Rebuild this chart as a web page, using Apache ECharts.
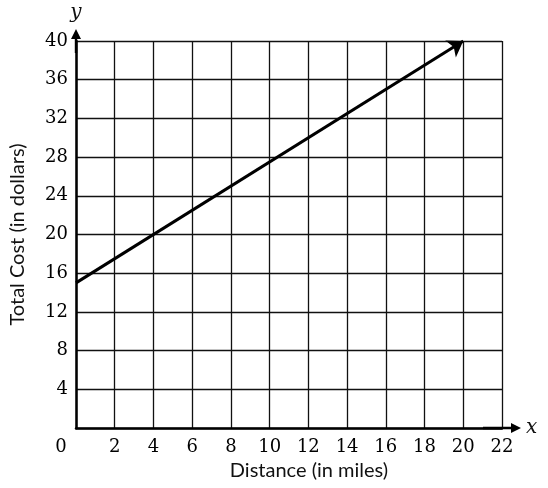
<!DOCTYPE html>
<html><head><meta charset="utf-8">
<script src="https://cdn.jsdelivr.net/npm/echarts@6/dist/echarts.min.js"></script>
<style>html,body{margin:0;padding:0;background:#fff}#c{width:548px;height:488px}</style>
</head><body><div id="c"></div>
<script>
const distance = [0, 20];
const totalCost = [15, 40];
const xTicks = {min: 0, max: 22, step: 2};
const yTicks = {min: 0, max: 40, step: 4};
const xTitle = 'Distance (in miles)';
const yTitle = 'Total Cost (in dollars)';

const chart = echarts.init(document.getElementById('c'));
const serif = 'DejaVu Serif';
const sans = 'Lato';
const arrowX = 'path://M5 0 L10 10 L6.2 10 L6.2 38 L3.8 38 L3.8 10 L0 10 Z';
const arrowY = 'path://M5 0 L10 10 L6.2 10 L6.2 24 L3.8 24 L3.8 10 L0 10 Z';
chart.setOption({
  animation: false,
  grid: {left: 76, right: 46, top: 41, bottom: 60, containLabel: false, outerBoundsMode: 'none'},
  xAxis: [{
    type: 'value', min: xTicks.min, max: xTicks.max, interval: xTicks.step,
    axisLine: {show: true, lineStyle: {color: '#000', width: 2.5}, symbol: ['none', arrowX], symbolSize: [10, 38]},
    axisTick: {show: false},
    splitLine: {show: true, lineStyle: {color: '#111', width: 1.3}},
    axisLabel: {
      color: '#000', fontFamily: serif, fontSize: 18, margin: 10,
      formatter: v => v === 0 ? '{z|0}' : String(v),
      rich: {z: {fontFamily: serif, fontSize: 18, color: '#000', padding: [0, 30, 4, 0]}}
    },
    name: xTitle, nameLocation: 'middle', nameGap: 33,
    nameTextStyle: {fontFamily: sans, fontSize: 20, color: '#111', padding: [0, 0, 0, 40]}
  }, {
    type: 'value', min: xTicks.min, max: xTicks.max, position: 'bottom',
    axisLine: {show: false}, axisTick: {show: false}, axisLabel: {show: false}, splitLine: {show: false},
    name: 'x', nameLocation: 'end', nameGap: 24,
    nameTextStyle: {fontFamily: serif, fontStyle: 'italic', fontSize: 20, color: '#111', verticalAlign: 'middle'}
  }],
  yAxis: [{
    type: 'value', min: yTicks.min, max: yTicks.max, interval: yTicks.step,
    axisLine: {show: true, lineStyle: {color: '#000', width: 2.5}, symbol: ['none', arrowY], symbolSize: [10, 24]},
    axisTick: {show: false},
    splitLine: {show: true, lineStyle: {color: '#111', width: 1.3}},
    axisLabel: {color: '#000', fontFamily: serif, fontSize: 18, margin: 8, formatter: v => v === 0 ? '' : String(v)},
    name: 'y', nameLocation: 'end', nameGap: 18,
    nameTextStyle: {fontFamily: serif, fontStyle: 'italic', fontSize: 20, color: '#111', align: 'center'}
  }, {
    type: 'value', min: yTicks.min, max: yTicks.max, position: 'left',
    axisLine: {show: false}, axisTick: {show: false}, axisLabel: {show: false}, splitLine: {show: false},
    name: yTitle, nameLocation: 'middle', nameGap: 48,
    nameTextStyle: {fontFamily: sans, fontSize: 20, color: '#111'}
  }],
  series: [{
    type: 'lines', coordinateSystem: 'cartesian2d', xAxisIndex: 0, yAxisIndex: 0,
    symbol: ['none', 'arrow'], symbolSize: 15,
    lineStyle: {color: '#000', width: 3, opacity: 1},
    data: [{coords: distance.map((d, i) => [d, totalCost[i]])}],
    z: 5
  }]
});
</script></body></html>
